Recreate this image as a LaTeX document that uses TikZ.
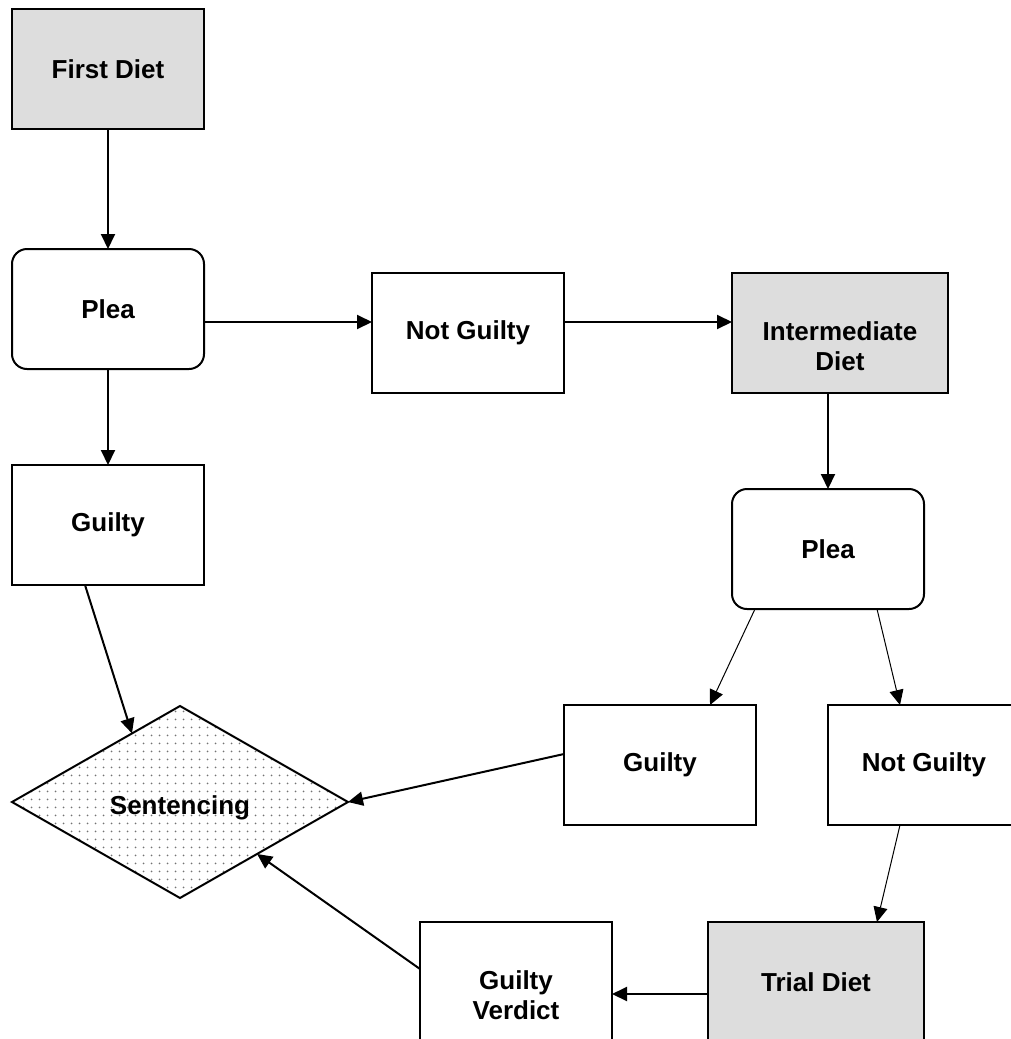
\documentclass[tikz,border=0pt]{standalone}
\usepackage{fontspec}
\setmainfont{Liberation Sans}
\usetikzlibrary{shapes.geometric,arrows.meta,patterns.meta}
\definecolor{dietgrey}{HTML}{DDDDDD}

\begin{document}
\begin{tikzpicture}[x=0.5pt,y=-0.5pt]
	\tikzstyle{every node}=[font=\fontsize{13}{15}\selectfont\bfseries, align=center, line width=1pt, outer sep=0pt]
	\tikzstyle{box}=[draw, rectangle, minimum width=96pt, minimum height=60pt, inner sep=0pt]
	\tikzstyle{dietbox}=[box, fill=dietgrey, minimum width=108pt]
	\tikzstyle{pleabox}=[box, rounded corners=7.5pt]
	\tikzstyle{lowtext}=[yshift=-6.5pt]
	\tikzstyle{arr}=[-{Triangle[length=7.5pt,width=7pt]}, line width=1pt]
	\tikzstyle{thinarr}=[arr, line width=0.5pt]

	\useasboundingbox (0,0) rectangle (1011,1039);

	\node[dietbox, minimum width=96pt] (firstdiet) at (108,69) {First Diet};
	\node[pleabox] (plea1) at (108,309) {Plea};
	\node[box] (notguilty1) at (468,333) {Not Guilty};
	\node[dietbox, label={[lowtext]center:Intermediate\\Diet}] (interdiet) at (840,333) {};
	\node[box] (guilty1) at (108,525) {Guilty};
	\node[pleabox] (plea2) at (828,549) {Plea};
	\node[box] (guilty2) at (660,765) {Guilty};
	\node[box] (notguilty2) at (924,765) {Not Guilty};
	\node[diamond, draw, minimum width=168pt, minimum height=96pt, inner sep=0pt,
		pattern={Dots[distance=4pt,radius=0.55pt]}, pattern color=black!55,
		label={[yshift=-3pt]center:Sentencing}] (sentencing) at (180,802) {};
	\node[box, label={[lowtext]center:Guilty\\Verdict}] (verdict) at (516,982) {};
	\node[dietbox] (trialdiet) at (816,982) {Trial Diet};

	\draw[arr] (firstdiet) -- (plea1);
	\draw[arr] ([yshift=-6.5pt]plea1.east) -- ([yshift=5.5pt]notguilty1.west);
	\draw[arr] ([yshift=5.5pt]notguilty1.east) -- ([yshift=5.5pt]interdiet.west);
	\draw[arr] (plea1) -- (guilty1);
	\draw[arr] (plea2.north |- interdiet.south) -- (plea2.north);
	\draw[thinarr] ([xshift=-36.5pt]plea2.south) -- ([xshift=25pt]guilty2.north);
	\draw[thinarr] ([xshift=24.5pt]plea2.south) -- ([xshift=-12pt]notguilty2.north);
	\draw[thinarr] ([xshift=-12pt]notguilty2.south) -- ([xshift=30.5pt]trialdiet.north);
	\draw[arr] ([yshift=-6pt]trialdiet.west) -- ([yshift=-6pt]verdict.east);
	\draw[arr] ([xshift=-11.5pt]guilty1.south) -- (sentencing.125);
	\draw[arr] ([yshift=5.5pt]guilty2.west) -- (sentencing.east);
	\draw[arr] ([yshift=6.5pt]verdict.west) -- (sentencing.-34);
\end{tikzpicture}
\end{document}
